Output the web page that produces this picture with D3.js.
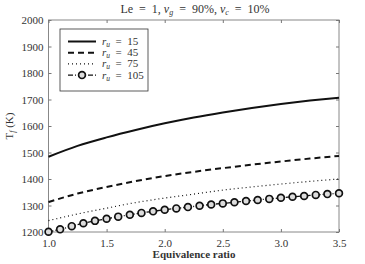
<!DOCTYPE html>
<html lang="en">
<head>
<meta charset="UTF-8">
<script src="https://d3js.org/d3.v7.min.js"></script>
<style>
  body { margin: 0; background: #fff; }
  svg text { font-family: "Liberation Serif", serif; fill: #333; }
</style>
</head>
<body>
<div id="chart"></div>
<script>
// x positions (equivalence ratio) for the smooth curves
const phiLine = [1.0, 1.25, 1.5, 1.75, 2.0, 2.25, 2.5, 2.75, 3.0, 3.25, 3.5];
const tf15 = [1484, 1525, 1557, 1585, 1610, 1632, 1651, 1668, 1683, 1696, 1707];
const tf45 = [1313, 1345, 1370, 1392, 1411, 1427, 1441, 1454, 1466, 1477, 1487];
const tf75 = [1243, 1268, 1290, 1311, 1328, 1343, 1358, 1370, 1381, 1391, 1400];
// ru = 105 marked series, every 0.1
const phiMark = [1.0, 1.1, 1.2, 1.3, 1.4, 1.5, 1.6, 1.7, 1.8, 1.9, 2.0, 2.1, 2.2,
                 2.3, 2.4, 2.5, 2.6, 2.7, 2.8, 2.9, 3.0, 3.1, 3.2, 3.3, 3.4, 3.5];
const tf105 = [1201, 1210, 1222, 1233, 1242, 1250, 1258, 1265, 1272, 1278, 1284, 1289, 1294,
               1299, 1304, 1308, 1312, 1317, 1321, 1325, 1329, 1333, 1336, 1340, 1343, 1346];
const xTicks = [1.0, 1.5, 2.0, 2.5, 3.0, 3.5];
const yTicks = [1200, 1300, 1400, 1500, 1600, 1700, 1800, 1900, 2000];
const legendLabels = ["15", "45", "75", "105"];

const W = 365, H = 264;
const m = {l: 48.5, r: 339, t: 20, b: 232};
const FS = 11;
const SP = "\u2002"; // wider math-style spacing around "="

const svg = d3.select("#chart").append("svg").attr("width", W).attr("height", H);

const x = d3.scaleLinear().domain([1.0, 3.5]).range([m.l, m.r]);
const y = d3.scaleLinear().domain([1200, 2000]).range([m.b, m.t]);

// frame
svg.append("rect")
  .attr("x", m.l).attr("y", m.t)
  .attr("width", m.r - m.l).attr("height", m.b - m.t)
  .attr("fill", "none").attr("stroke", "#888").attr("stroke-width", 1);

// axes with inward ticks
const axB = svg.append("g").attr("transform", `translate(0,${m.b})`)
  .call(d3.axisBottom(x).tickValues(xTicks).tickSize(-3).tickPadding(7).tickFormat(d3.format(".1f")));
const axT = svg.append("g").attr("transform", `translate(0,${m.t})`)
  .call(d3.axisTop(x).tickValues(xTicks).tickSize(-3).tickFormat(""));
const axL = svg.append("g").attr("transform", `translate(${m.l},0)`)
  .call(d3.axisLeft(y).tickValues(yTicks).tickSize(-3).tickPadding(5).tickFormat(d3.format("d")));
const axR = svg.append("g").attr("transform", `translate(${m.r},0)`)
  .call(d3.axisRight(y).tickValues(yTicks).tickSize(-3).tickFormat(""));
[axB, axT, axL, axR].forEach(a => {
  a.attr("font-family", null).attr("font-size", null);
  a.select(".domain").remove();
  a.selectAll("line").attr("stroke", "#777");
  a.selectAll("text").attr("font-size", FS).attr("fill", "#333");
});

const line = d3.line().x(d => x(d[0])).y(d => y(d[1])).curve(d3.curveMonotoneX);
const zip = (a, b) => a.map((v, i) => [v, b[i]]);

const series = [
  {d: zip(phiLine, tf15), dash: null, w: 2},
  {d: zip(phiLine, tf45), dash: "6,4", w: 2},
  {d: zip(phiLine, tf75), dash: "1,3", w: 1.2},
  {d: zip(phiMark, tf105), dash: "5,2,1,2", w: 1.3}
];
const plot = svg.append("g");
series.forEach(s => {
  plot.append("path").datum(s.d)
    .attr("d", line).attr("fill", "none").attr("stroke", "#111")
    .attr("stroke-width", s.w).attr("stroke-dasharray", s.dash);
});
plot.selectAll("circle.mk").data(zip(phiMark, tf105)).enter().append("circle")
  .attr("class", "mk")
  .attr("cx", d => x(d[0])).attr("cy", d => y(d[1])).attr("r", 3.4)
  .attr("fill", "#ddd").attr("stroke", "#111").attr("stroke-width", 1.7);

// legend
const lg = svg.append("g");
lg.append("rect").attr("x", 60).attr("y", 29).attr("width", 88).attr("height", 62)
  .attr("fill", "#fff").attr("stroke", "#333").attr("stroke-width", 0.8);
legendLabels.forEach((lab, i) => {
  const ly = 41.5 + i * 11.2;
  const s = series[i];
  lg.append("line").attr("x1", 68).attr("x2", 96).attr("y1", ly).attr("y2", ly)
    .attr("stroke", "#111").attr("stroke-width", s.w).attr("stroke-dasharray", s.dash);
  if (i === 3) {
    lg.append("circle").attr("cx", 82).attr("cy", ly).attr("r", 3.4)
      .attr("fill", "#ddd").attr("stroke", "#111").attr("stroke-width", 1.7);
  }
  const t = lg.append("text").attr("x", 102).attr("y", ly + 3.5).attr("font-size", FS);
  t.append("tspan").attr("font-style", "italic").text("r");
  t.append("tspan").attr("font-style", "italic").attr("font-size", 7.5).attr("dy", 2).text("u");
  t.append("tspan").attr("dy", -2).text(SP + "=" + SP + lab);
});

// title
const ti = svg.append("text").attr("x", 195).attr("y", 13).attr("text-anchor", "middle").attr("font-size", 12);
ti.append("tspan").text("Le" + SP + "=" + SP + "1, ");
ti.append("tspan").attr("font-style", "italic").text("v");
ti.append("tspan").attr("font-style", "italic").attr("font-size", 8).attr("dy", 2).text("g");
ti.append("tspan").attr("dy", -2).text(SP + "=" + SP + "90%, ");
ti.append("tspan").attr("font-style", "italic").text("v");
ti.append("tspan").attr("font-style", "italic").attr("font-size", 8).attr("dy", 2).text("c");
ti.append("tspan").attr("dy", -2).text(SP + "=" + SP + "10%");

// axis labels
svg.append("text").attr("x", 194).attr("y", 258).attr("text-anchor", "middle")
  .attr("font-size", FS).attr("font-weight", "bold").attr("fill", "#222").text("Equivalence ratio");
const yl = svg.append("text").attr("transform", "translate(13,126) rotate(-90)")
  .attr("text-anchor", "middle").attr("font-size", FS);
yl.append("tspan").text("T");
yl.append("tspan").attr("font-style", "italic").attr("font-size", 7.5).attr("dy", 2).text("f");
yl.append("tspan").attr("dy", -2).text(" (K)");
</script>
</body>
</html>
